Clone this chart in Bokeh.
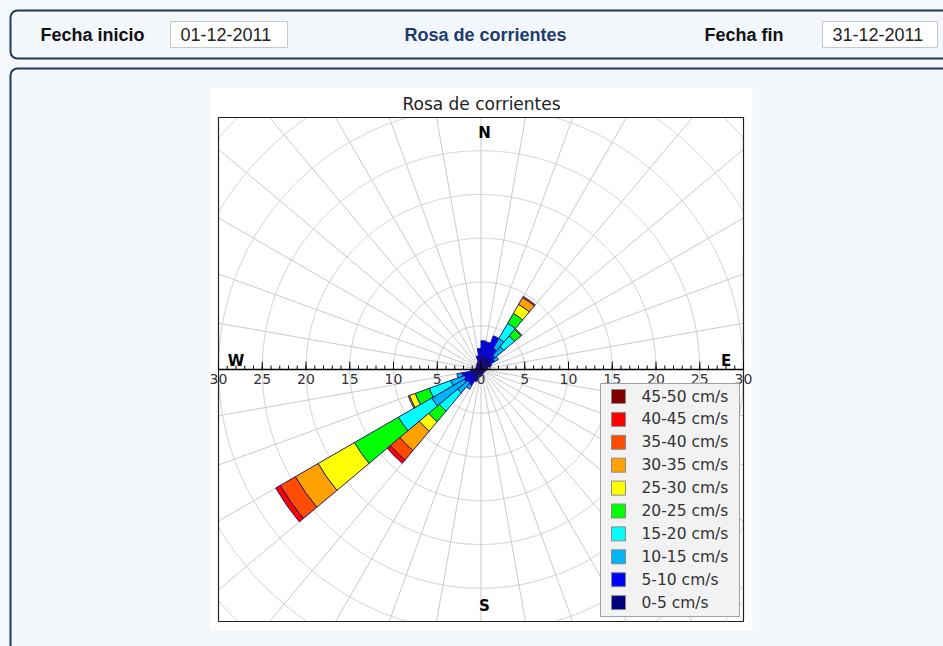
import numpy as np
from bokeh.plotting import figure
from bokeh.models import Range1d, ColumnDataSource
from bokeh.core.properties import value
from bokeh.embed import file_html
from bokeh.resources import INLINE

# ---------------------------------------------------------------- data
# 36 direction sectors, 10 degrees wide, identified by start azimuth
# (degrees clockwise from north)
sector_start = list(range(0, 360, 10))
sector_width = 10

speed_classes = ["0-5 cm/s", "5-10 cm/s", "10-15 cm/s", "15-20 cm/s", "20-25 cm/s",
                 "25-30 cm/s", "30-35 cm/s", "35-40 cm/s", "40-45 cm/s", "45-50 cm/s"]

# frequency (%) of every speed class in each sector
freq_0_5 = [1.4, 1.4, 1.3, 1.5, 1.4, 1.2, 1.0, 0.8, 0.7, 0.6, 0.5, 0.5,
            0.4, 0.4, 0.5, 0.5, 0.6, 0.7, 0.8, 0.9, 1.1, 1.2, 1.2, 1.2,
            1.2, 1.0, 0.8, 0.7, 0.6, 0.6, 0.6, 0.7, 0.8, 0.9, 1.0, 1.3]
freq_5_10 = [1.9, 1.8, 2.8, 1.3, 0.7, 0.6, 0.3, 0, 0, 0, 0, 0,
             0, 0, 0, 0, 0, 0, 0, 0, 0.4, 0.9, 0.8, 1.0,
             0.8, 1.2, 0.4, 0, 0, 0, 0, 0, 0, 0, 0.6, 1.1]
freq_10_15 = [0, 0, 0, 1.3, 1.3, 0.5, 0, 0, 0, 0, 0, 0,
              0, 0, 0, 0, 0, 0, 0, 0, 0, 0.5, 1.5, 4.3,
              1.7, 0.6, 0, 0, 0, 0, 0, 0, 0, 0, 0, 0]
freq_15_20 = [0, 0, 0, 2.0, 1.6, 0, 0, 0, 0, 0, 0, 0,
              0, 0, 0, 0, 0, 0, 0, 0, 0, 0, 2.7, 4.4,
              2.6, 0, 0, 0, 0, 0, 0, 0, 0, 0, 0, 0]
freq_20_25 = [0, 0, 0, 1.3, 1.0, 0, 0, 0, 0, 0, 0, 0,
              0, 0, 0, 0, 0, 0, 0, 0, 0, 0, 1.6, 5.8,
              1.7, 0, 0, 0, 0, 0, 0, 0, 0, 0, 0, 0]
freq_25_30 = [0, 0, 0, 1.2, 0.1, 0, 0, 0, 0, 0, 0, 0,
              0, 0, 0, 0, 0, 0, 0, 0, 0, 0, 1.4, 4.8,
              0.7, 0, 0, 0, 0, 0, 0, 0, 0, 0, 0, 0]
freq_30_35 = [0, 0, 0, 0.9, 0, 0, 0, 0, 0, 0, 0, 0,
              0, 0, 0, 0, 0, 0, 0, 0, 0, 0, 2.9, 3.0,
              0.15, 0, 0, 0, 0, 0, 0, 0, 0, 0, 0, 0]
freq_35_40 = [0, 0, 0, 0.15, 0, 0, 0, 0, 0, 0, 0, 0,
              0, 0, 0, 0, 0, 0, 0, 0, 0, 0, 1.4, 2.0,
              0, 0, 0, 0, 0, 0, 0, 0, 0, 0, 0, 0]
freq_40_45 = [0, 0, 0, 0, 0, 0, 0, 0, 0, 0, 0, 0,
              0, 0, 0, 0, 0, 0, 0, 0, 0, 0, 0.5, 0.6,
              0, 0, 0, 0, 0, 0, 0, 0, 0, 0, 0, 0]
freq_45_50 = [0, 0, 0, 0, 0, 0, 0, 0, 0, 0, 0, 0,
              0, 0, 0, 0, 0, 0, 0, 0, 0, 0, 0, 0,
              0, 0, 0, 0, 0, 0, 0, 0, 0, 0, 0, 0]

axis_ticks = [-30, -25, -20, -15, -10, -5, 0, 5, 10, 15, 20, 25, 30]
axis_tick_labels = ["30", "25", "20", "15", "10", "5", "0", "5", "10", "15", "20", "25", "30"]
compass_labels = ["N", "S", "W", "E"]

chart_title = "Rosa de corrientes"
fecha_inicio = "01-12-2011"
fecha_fin = "31-12-2011"

# ---------------------------------------------------------------- style
class_colors = ["#00007f", "#0000ff", "#00b4f5", "#00ffff", "#00ff00",
                "#ffff00", "#ffa200", "#ff4c00", "#ff0000", "#7f0000"]
EDGE = "#1c0d6b"
PAGE_BG = "#f3f6fb"
PANEL_LINE = "#1f3a5a"
GRID = "#cacaca"

W, H = 943, 646
# rose frame in page pixels and its half-extent along x
FL, FR, FT, FB = 218, 743, 117, 621
R_AXIS = 30
scale = (FR - FL) / (2 * R_AXIS)
cx, cy = (FL + FR) / 2, (FT + FB) / 2
y_half = (FB - FT) / 2 / scale

p = figure(width=W, height=H, x_range=Range1d(0, W), y_range=Range1d(H, 0),
           output_backend="svg", toolbar_location=None, title=None,
           x_axis_location=None, y_axis_location=None, min_border=0,
           outline_line_color=None, background_fill_color=PAGE_BG,
           border_fill_color=PAGE_BG)
p.grid.visible = False
p.extra_x_ranges = {"rose": Range1d(-cx / scale, (W - cx) / scale)}
p.extra_y_ranges = {"rose": Range1d(-(H - cy) / scale, cy / scale)}
ROSE = dict(x_range_name="rose", y_range_name="rose")

FONT = value("Liberation Sans")
MPL = value("DejaVu Sans")

# ---------------------------------------------------------------- page panels
p.quad(left=[10, 10], right=[990, 990], top=[10, 68], bottom=[58, 720],
       fill_color=PAGE_BG, line_color=PANEL_LINE, line_width=2, border_radius=7)
p.quad(left=[170, 822], right=[287, 937], top=[21, 21], bottom=[47, 47],
       fill_color="white", line_color="#c4c8cf", line_width=1)
p.text(x=[40, 704], y=[34, 34], text=["Fecha inicio", "Fecha fin"],
       text_font=FONT, text_font_style="bold", text_font_size=value("18px"),
       text_color="#111111", text_baseline="middle")
p.text(x=[180, 832], y=[34, 34], text=[fecha_inicio, fecha_fin],
       text_font=FONT, text_font_size=value("18px"), text_color="#222222",
       text_baseline="middle")
p.text(x=[485], y=[34], text=[chart_title], text_font=FONT,
       text_font_style="bold", text_font_size=value("18px"),
       text_color="#1d3c6c", text_baseline="middle", text_align="center")

# white chart card with its title
p.quad(left=210, right=752, top=88, bottom=630, fill_color="white", line_color=None)
p.text(x=[481], y=[103], text=[chart_title], text_font=MPL,
       text_font_size=value("17px"), text_color="#222222",
       text_baseline="middle", text_align="center")

# ---------------------------------------------------------------- polar grid
ang = np.deg2rad(np.arange(0, 360, 10))
reach = np.minimum(np.where(np.abs(np.cos(ang)) > 1e-9, R_AXIS / np.abs(np.cos(ang) + 1e-12), 1e9),
                   np.where(np.abs(np.sin(ang)) > 1e-9, y_half / np.abs(np.sin(ang) + 1e-12), 1e9))
p.segment(x0=0, y0=0, x1=reach * np.cos(ang), y1=reach * np.sin(ang),
          line_color=GRID, line_width=1, **ROSE)
phi = np.linspace(0, 2 * np.pi, 4000)
for r in range(5, 50, 5):
    gx, gy = r * np.cos(phi), r * np.sin(phi)
    outside = (np.abs(gx) > R_AXIS) | (np.abs(gy) > y_half)
    gx[outside] = np.nan
    gy[outside] = np.nan
    p.line(gx, gy, line_color=GRID, line_width=1, **ROSE)

# ---------------------------------------------------------------- stacked sectors
classes = [freq_0_5, freq_5_10, freq_10_15, freq_15_20, freq_20_25,
           freq_25_30, freq_30_35, freq_35_40, freq_40_45, freq_45_50]
cum = np.zeros(len(sector_start))
seg = dict(inner=[], outer=[], start=[], end=[], color=[])
for k, f in enumerate(classes):
    f = np.asarray(f, dtype=float)
    for i, a in enumerate(sector_start):
        if f[i] > 0:
            seg["inner"].append(cum[i])
            seg["outer"].append(cum[i] + f[i])
            # azimuth (clockwise from north) to counter-clockwise math angle
            seg["start"].append(90 - (a + sector_width))
            seg["end"].append(90 - a)
            seg["color"].append(class_colors[k])
    cum += f
p.annular_wedge(x=0, y=0, inner_radius="inner", outer_radius="outer",
                start_angle="start", end_angle="end",
                start_angle_units="deg", end_angle_units="deg",
                fill_color="color", line_color=EDGE, line_width=0.9,
                source=ColumnDataSource(seg), **ROSE)

# ---------------------------------------------------------------- frame and W-E axis
p.quad(left=FL, right=FR, top=FT, bottom=FB, fill_color=None,
       line_color="#222222", line_width=1.2)
p.segment(x0=-R_AXIS, y0=0, x1=R_AXIS, y1=0, line_color="black", line_width=1.5, **ROSE)
minor = np.arange(-R_AXIS, R_AXIS + 1, 1)
p.segment(x0=minor, y0=0, x1=minor, y1=0.45, line_color="black", line_width=1, **ROSE)
p.segment(x0=axis_ticks, y0=0, x1=axis_ticks, y1=0.9, line_color="black", line_width=1, **ROSE)
p.text(x=axis_ticks, y=-0.55, text=axis_tick_labels, text_font=MPL,
       text_font_size=value("14px"), text_color="#333333",
       text_align="center", text_baseline="top", **ROSE)

p.text(x=[0.4, 0.4, -28.0, 28.0], y=[27.0, -27.0, 1.0, 1.0], text=compass_labels,
       text_font=MPL, text_font_style="bold", text_font_size=value("15px"),
       text_color="black", text_align="center", text_baseline="middle", **ROSE)

# ---------------------------------------------------------------- legend
LG_L, LG_R, LG_T, LG_B = 600, 739, 383, 616
p.quad(left=LG_L, right=LG_R, top=LG_T, bottom=LG_B, fill_color="#f2f2f2",
       line_color="#a0a0a0", line_width=1)
n = len(speed_classes)
row_y = [396 + 22.9 * j for j in range(n)]
p.rect(x=[618] * n, y=row_y, width=14, height=14,
       fill_color=class_colors[::-1], line_color="#8a8a8a", line_width=1)
p.text(x=[641] * n, y=row_y, text=speed_classes[::-1], text_font=MPL,
       text_font_size=value("15.5px"), text_color="#333333", text_baseline="middle")

open("out.html", "w").write(file_html(p, INLINE))
